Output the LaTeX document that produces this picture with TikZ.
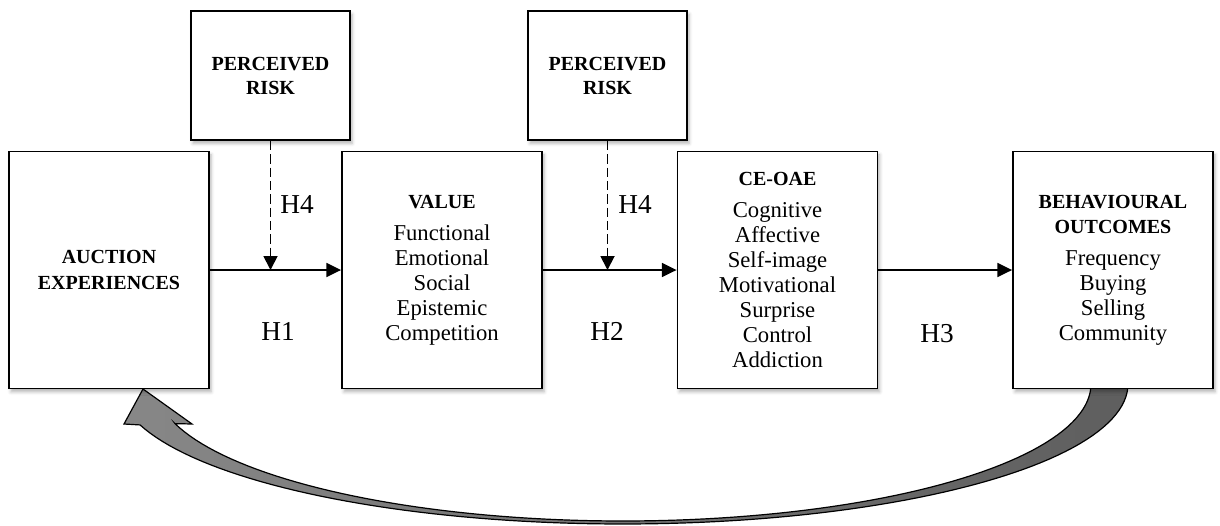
\documentclass[tikz,border=0pt]{standalone}
\usepackage{fontspec}
\setmainfont{Liberation Serif}
\usetikzlibrary{arrows.meta,shadows.blur}

\newcommand{\boxtitle}[1]{{\bfseries\fontsize{15}{18}\selectfont #1}}

\begin{document}
\begin{tikzpicture}[x=0.75pt,y=-0.75pt,
  box/.style={draw=black, line width=1.4pt, fill=white, align=center, inner sep=0pt,
    blur shadow={shadow xshift=1.5pt, shadow yshift=-2.5pt,
                 shadow blur radius=2.5pt, shadow opacity=30}},
  mainbox/.style={box, minimum width=150pt, minimum height=177.75pt,
    font=\fontsize{17}{18.75}\selectfont},
  riskbox/.style={box, minimum width=119.25pt, minimum height=96.75pt,
    font=\bfseries\fontsize{15}{18}\selectfont},
  hyp/.style={font=\fontsize{20.5}{22}\selectfont, inner sep=0pt},
  link/.style={line width=1.3pt, -{Triangle[length=11pt,width=10.5pt]}},
  modlink/.style={line width=1.4pt, dash pattern=on 7pt off 3pt,
    -{Triangle[length=10.5pt,width=10.5pt]}},
  loopback/.style={draw=black, line width=0.9pt, left color=black!47, right color=black!63}
]
\useasboundingbox (0,0) rectangle (1220,525);

% feedback arrow from behavioural outcomes back to auction experiences
\path[loopback]
  plot[domain=1.64:163, samples=90, variable=\t] ({623+505*cos(\t)},{384+140*sin(\t)})
  -- (124,424) -- (143,389) -- (192,424) -- (175,423.6)
  -- plot[domain=163.2:1.67, samples=90, variable=\t] ({623+468*cos(\t)},{384+137*sin(\t)})
  -- cycle;

% main constructs
\node[mainbox, font=\bfseries\fontsize{15}{19.5}\selectfont] (auction) at (109,270)
  {AUCTION\\EXPERIENCES};
\node[mainbox] (value) at (442,270)
  {\boxtitle{VALUE}\\[5.5pt]
   Functional\\Emotional\\Social\\Epistemic\\Competition};
\node[mainbox] (ceoae) at (777.5,270)
  {\boxtitle{CE-OAE}\\[5.5pt]
   Cognitive\\Affective\\Self-image\\Motivational\\Surprise\\Control\\Addiction};
\node[mainbox] (behav) at (1113,270)
  {\boxtitle{BEHAVIOURAL}\\
   \boxtitle{OUTCOMES}\\[5.5pt]
   Frequency\\Buying\\Selling\\Community};

% moderators
\node[riskbox] (risk1) at (270.5,75.5) {PERCEIVED\\RISK};
\node[riskbox] (risk2) at (607.5,75.5) {PERCEIVED\\RISK};

% direct paths
\draw[link] (auction) -- (value);
\draw[link] (value) -- (ceoae);
\draw[link] (ceoae) -- (behav);

% moderating paths
\coordinate (m1) at (risk1 |- auction);
\coordinate (m2) at (risk2 |- auction);
\draw[modlink] (risk1) -- (m1);
\draw[modlink] (risk2) -- (m2);

% hypothesis labels
\node[hyp] (h4a) at (297,204) {H4};
\node[hyp] (h4b) at (635,204) {H4};
\node[hyp] (h1) at (278,331) {H1};
\node[hyp] (h2) at (607,331) {H2};
\node[hyp] (h3) at (937,334) {H3};
\end{tikzpicture}
\end{document}
